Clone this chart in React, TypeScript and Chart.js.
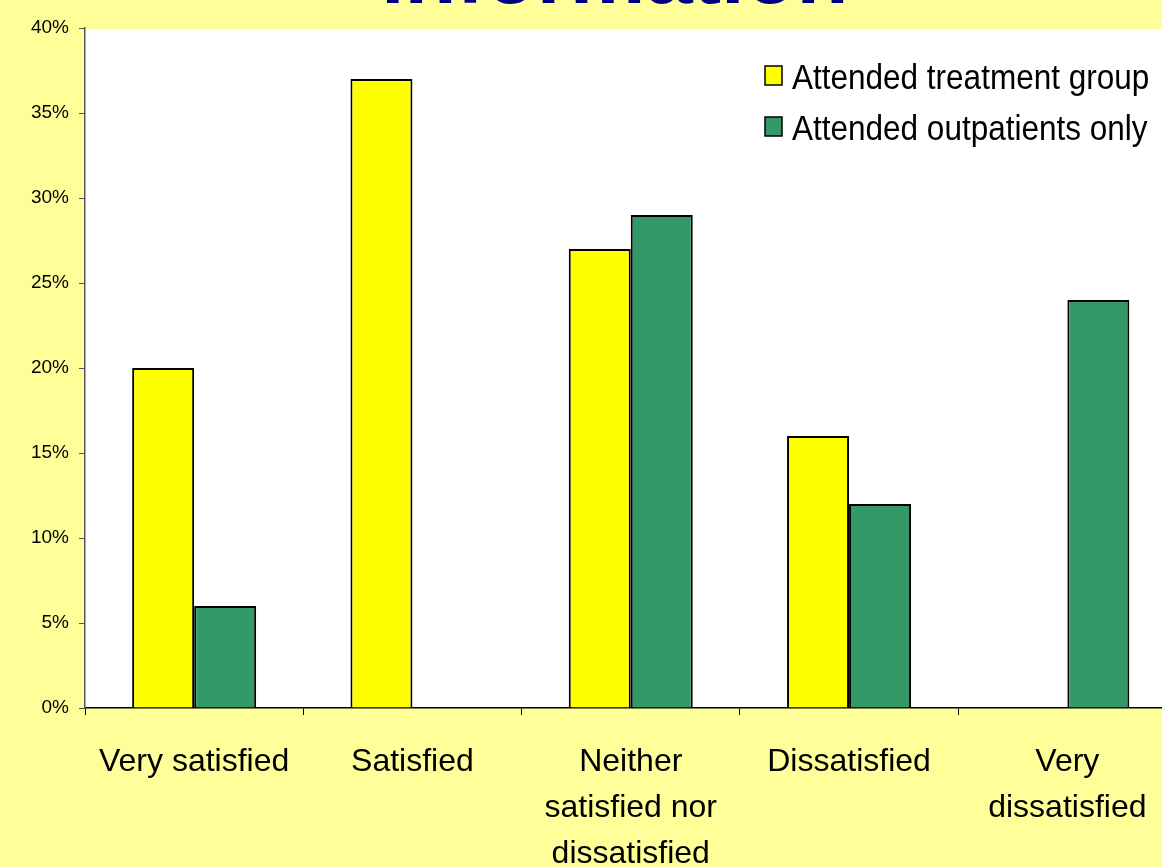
import React, { useEffect, useRef } from "react";
import { Chart, registerables } from "chart.js";

Chart.register(...registerables);

const categories: string[][] = [
  ["Very satisfied"],
  ["Satisfied"],
  ["Neither", "satisfied nor", "dissatisfied"],
  ["Dissatisfied"],
  ["Very", "dissatisfied"],
];
const treatmentGroup: (number | null)[] = [20, 37, 27, 16, null];
const outpatientsOnly: (number | null)[] = [6, null, 29, 12, 24];
const seriesNames = ["Attended treatment group", "Attended outpatients only"];
const seriesColors = ["#FFFF00", "#339966"];
const yMin = 0;
const yMax = 40;
const yStep = 5;
const titleText = "information";

const FONT = "'Liberation Sans', Arial, sans-serif";

const decorPlugin = {
  id: "decor",
  beforeDraw(chart: any) {
    const { ctx, chartArea, width, height } = chart;
    ctx.save();
    ctx.fillStyle = "#FFFF99";
    ctx.fillRect(0, 0, width, height);
    ctx.fillStyle = "#FFFFFF";
    ctx.fillRect(chartArea.left, chartArea.top + 1, width - chartArea.left, chartArea.bottom - chartArea.top - 1);
    ctx.fillStyle = "#000080";
    ctx.font = `bold 85px ${FONT}`;
    ctx.textAlign = "left";
    ctx.textBaseline = "alphabetic";
    ctx.fillText(titleText, 381, 2.5);
    ctx.restore();
  },
  afterDraw(chart: any) {
    const { ctx } = chart;
    ctx.save();
    const rows = [
      { box: 66, base: 89 },
      { box: 117, base: 140 },
    ];
    seriesNames.forEach((name, i) => {
      ctx.fillStyle = seriesColors[i];
      ctx.fillRect(765, rows[i].box, 17, 19);
      ctx.strokeStyle = "#000";
      ctx.lineWidth = 1.5;
      ctx.strokeRect(765, rows[i].box, 17, 19);
      ctx.save();
      ctx.translate(792, rows[i].base);
      ctx.scale(0.9, 1);
      ctx.fillStyle = "#000";
      ctx.font = `35px ${FONT}`;
      ctx.textAlign = "left";
      ctx.textBaseline = "alphabetic";
      ctx.fillText(name, 0, 0);
      ctx.restore();
    });
    ctx.restore();
  },
};

export default function App() {
  const ref = useRef<HTMLCanvasElement>(null);
  useEffect(() => {
    if (!ref.current) return;
    const chart = new Chart(ref.current, {
      type: "bar",
      data: {
        labels: categories,
        datasets: [
          {
            label: seriesNames[0],
            data: treatmentGroup,
            backgroundColor: seriesColors[0],
            borderColor: "#000",
            borderWidth: 2,
            borderSkipped: "start",
          },
          {
            label: seriesNames[1],
            data: outpatientsOnly,
            backgroundColor: seriesColors[1],
            borderColor: "#000",
            borderWidth: 2,
            borderSkipped: "start",
          },
        ],
      },
      options: {
        responsive: false,
        animation: false,
        devicePixelRatio: 1,
        layout: { padding: { top: 28, right: 3.5, bottom: 0, left: 0 } },
        plugins: {
          legend: { display: false },
          tooltip: { enabled: false },
          title: { display: false },
        },
        datasets: { bar: { categoryPercentage: 0.568, barPercentage: 1.0 } },
        scales: {
          x: {
            offset: true,
            grid: {
              display: true,
              drawOnChartArea: false,
              drawTicks: true,
              tickLength: 7,
              offset: true,
              color: "#000",
            },
            border: { display: true, color: "#000", width: 1.5 },
            ticks: {
              color: "#000",
              font: { family: FONT, size: 32, lineHeight: 1.44 },
              padding: 24,
              maxRotation: 0,
              autoSkip: false,
            },
            afterFit(scale: any) {
              scale.height = 159;
            },
          },
          y: {
            min: yMin,
            max: yMax,
            grid: {
              display: true,
              drawOnChartArea: false,
              drawTicks: true,
              tickLength: 6,
              color: "#555",
            },
            border: { display: true, color: "#555", width: 1.5 },
            ticks: {
              stepSize: yStep,
              color: "#000",
              font: { family: FONT, size: 19 },
              padding: 10,
              callback: (v: any) => `${v}%`,
            },
            afterFit(scale: any) {
              scale.width = 85;
            },
          },
        },
      },
      plugins: [decorPlugin],
    } as any);
    return () => chart.destroy();
  }, []);
  return (
    <div style={{ position: "fixed", left: 0, top: 0, width: 1162, height: 867, overflow: "hidden", background: "#FFFF99" }}>
      <canvas ref={ref} width={1180} height={867} style={{ display: "block" }} />
    </div>
  );
}
